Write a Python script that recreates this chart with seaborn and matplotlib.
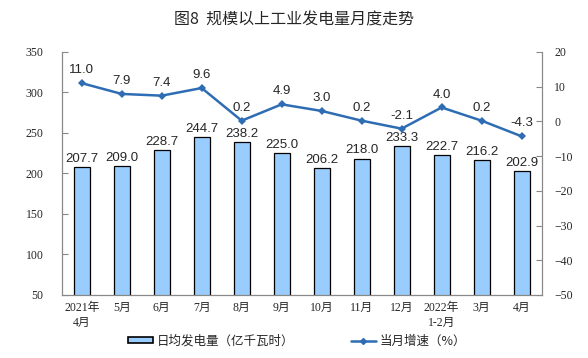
import pandas as pd
import matplotlib.pyplot as plt
import seaborn as sns
import numpy as np
from matplotlib.patches import Patch
from matplotlib.lines import Line2D

months = ['2021年\n4月', '5月', '6月', '7月', '8月', '9月', '10月', '11月', '12月',
          '2022年\n1-2月', '3月', '4月']
daily_output = [207.7, 209.0, 228.7, 244.7, 238.2, 225.0, 206.2, 218.0, 233.3, 222.7, 216.2, 202.9]
growth = [11.0, 7.9, 7.4, 9.6, 0.2, 4.9, 3.0, 0.2, -2.1, 4.0, 0.2, -4.3]

sns.set_style('white')
plt.rcParams['font.family'] = ['Liberation Sans', 'Noto Sans CJK SC', 'DejaVu Sans']

df = pd.DataFrame({'month': months, 'output': daily_output, 'growth': growth})
df['pos'] = np.arange(len(df))

fig = plt.figure(figsize=(5.88, 3.58), dpi=100)
ax = fig.add_axes([0.105, 0.176, 0.816, 0.679])

bar_color = '#99CCFF'
line_color = '#2E6DB4'
axis_gray = '#888888'
serif = ['Liberation Serif', 'Noto Sans CJK SC']
cjk = ['Noto Sans CJK SC', 'DejaVu Sans']

sns.barplot(data=df, x='pos', y='output', color=bar_color, width=0.4,
            edgecolor='black', linewidth=0.9, saturation=1, ax=ax)
ax.set_ylim(50, 350)
ax.set_yticks(np.arange(50, 351, 50))
ax.set_xlim(-0.5, len(df) - 0.5)
ax.set_xticks(df['pos'])
ax.set_xticklabels(months, family=serif, fontsize=8.5, linespacing=1.3)
ax.set_xticks(np.arange(0.5, len(df) - 0.5), minor=True)
ax.set_xlabel('')
ax.set_ylabel('')
for lbl in ax.get_yticklabels():
    lbl.set_family(serif)
    lbl.set_fontsize(8.5)
ax.tick_params(axis='x', which='major', length=0, pad=5)
ax.tick_params(axis='x', which='minor', direction='in', length=4, color=axis_gray)
ax.tick_params(axis='y', direction='in', length=4, color=axis_gray, pad=13)

for x, v in zip(df['pos'], daily_output):
    ax.text(x, v + 3, f'{v:.1f}', ha='center', va='bottom', fontsize=9.5)

ax2 = ax.twinx()
sns.lineplot(data=df, x='pos', y='growth', color=line_color, linewidth=1.8,
             marker='D', markersize=4, markeredgewidth=0, ax=ax2)
ax2.set_ylim(-50, 20)
ax2.set_yticks(np.arange(-50, 21, 10))
ax2.set_ylabel('')
ax2.set_xlim(-0.5, len(df) - 0.5)
for lbl in ax2.get_yticklabels():
    lbl.set_family(serif)
    lbl.set_fontsize(8.5)
ax2.tick_params(axis='y', direction='in', length=4, color=axis_gray, pad=9)

for x, v in zip(df['pos'], growth):
    ax2.text(x, v + 2.0, f'{v:.1f}', ha='center', va='bottom', fontsize=9.5)

for a in (ax, ax2):
    a.spines['top'].set_visible(False)
    for s in ('left', 'right', 'bottom'):
        a.spines[s].set_color(axis_gray)
        a.spines[s].set_linewidth(0.8)

fig.suptitle('图8  规模以上工业发电量月度走势', y=0.968, fontsize=11.5,
             family=cjk, fontweight='medium')

handles = [Patch(facecolor=bar_color, edgecolor='black', linewidth=1.2),
           Line2D([0], [0], color=line_color, linewidth=1.8, marker='D', markersize=3)]
fig.legend(handles, ['日均发电量（亿千瓦时）', '当月增速（%）'], loc='center',
           bbox_to_anchor=(0.505, 0.047), ncol=2, frameon=False,
           handlelength=2.0, handleheight=0.4, handletextpad=0.3, columnspacing=4.5,
           prop={'family': cjk, 'size': 9})

fig.savefig('out.png', dpi=100)
